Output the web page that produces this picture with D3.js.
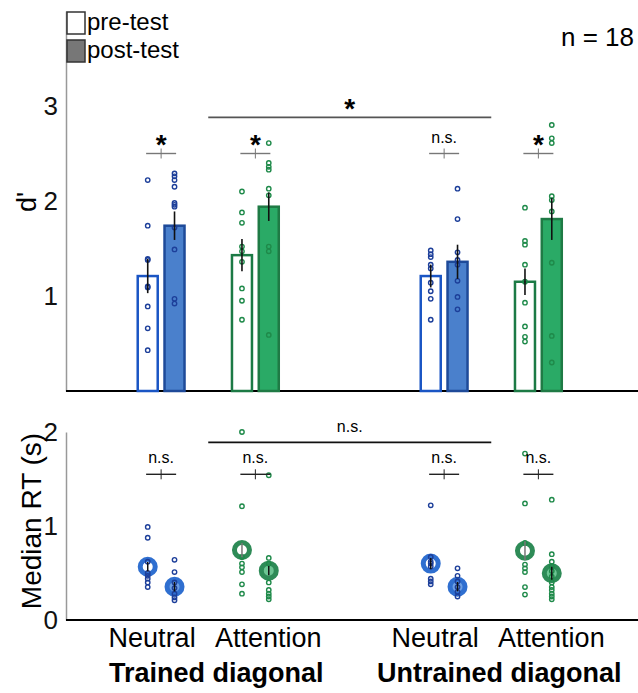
<!DOCTYPE html>
<html>
<head>
<meta charset="utf-8">
<script src="https://cdn.jsdelivr.net/npm/d3@7"></script>
<style>
  body { margin: 0; background: #fff; }
  text { font-family: Helvetica, Arial, "Liberation Sans", sans-serif; }
</style>
</head>
<body>
<div id="chart"></div>
<script>
// d' and median RT, pre vs post test, n = 18

// ----- data -----
const diagonals = ["Trained diagonal", "Untrained diagonal"];
const conditions = ["Neutral", "Attention"];
const sessions = ["pre-test", "post-test"];

// group order: trained neutral, trained attention, untrained neutral, untrained attention
// each entry is [pre, post]
const dMean = [[1.21, 1.74], [1.43, 1.94], [1.21, 1.36], [1.15, 1.81]];
const dSE = [[0.18, 0.15], [0.17, 0.15], [0.12, 0.18], [0.14, 0.22]];
const dPoints = [
  [[2.22, 1.74, 1.39, 1.38, 1.10, 1.09, 0.89, 0.66, 0.43],
   [2.29, 2.26, 2.22, 2.15, 1.98, 1.96, 1.94, 1.72, 1.49, 0.97, 0.92]],
  [[2.10, 1.88, 1.77, 1.52, 1.47, 1.36, 1.08, 0.95, 0.75],
   [2.61, 2.40, 2.36, 2.33, 2.13, 2.06, 1.52, 1.47, 0.59]],
  [[1.48, 1.44, 1.41, 1.33, 1.29, 1.14, 1.05, 0.97, 0.75],
   [2.13, 1.81, 1.46, 1.38, 1.33, 1.16, 0.99, 0.86]],
  [[1.93, 1.58, 1.54, 1.33, 1.15, 0.93, 0.68, 0.57, 0.52],
   [2.80, 2.66, 2.61, 2.05, 2.01, 1.89, 1.35, 0.58, 0.30]]
];
const rtMean = [[0.567, 0.354], [0.745, 0.525], [0.60, 0.354], [0.737, 0.497]];
const rtSE = [[0.05, 0.05], [0.075, 0.05], [0.06, 0.05], [0.10, 0.07]];
const rtPoints = [
  [[0.99, 0.875, 0.62, 0.50, 0.47, 0.44, 0.40, 0.35],
   [0.64, 0.51, 0.40, 0.34, 0.28, 0.24, 0.21]],
  [[2.00, 1.21, 0.67, 0.60, 0.56, 0.51, 0.38, 0.28],
   [1.54, 0.66, 0.60, 0.40, 0.32, 0.28, 0.25, 0.22]],
  [[1.22, 0.67, 0.62, 0.60, 0.57, 0.44, 0.41, 0.38],
   [0.55, 0.47, 0.41, 0.35, 0.30, 0.25]],
  [[1.77, 1.24, 0.82, 0.59, 0.55, 0.51, 0.35, 0.27],
   [1.28, 0.70, 0.62, 0.57, 0.52, 0.46, 0.40, 0.35, 0.32, 0.28, 0.25, 0.22]]
];
const dSig = ["*", "*", "n.s.", "*"];
const rtSig = ["n.s.", "n.s.", "n.s.", "n.s."];
const dMainSig = "*";
const rtMainSig = "n.s.";
const dTicks = [1, 2, 3];
const rtTicks = [0, 1, 2];
const sampleLabel = "n = 18";

// ----- colours -----
const col = {
  Neutral: { pt: "#1d3f9a", pre: "#1a55c4", fill: "#4a80cc", edge: "#1e4a99",
             ring: "#2f6fd0", ringFill: "#6d9fe3" },
  Attention: { pt: "#1f8a4a", pre: "#1c7a45", fill: "#2aaa66", edge: "#1f7a45",
               ring: "#2e8b57", ringFill: "#6cc593" }
};

// ----- svg -----
const width = 638, height = 693;
const svg = d3.select("#chart")
  .append("svg")
  .attr("width", width)
  .attr("height", height);

// ----- scales -----
const xDiag = d3.scaleBand().domain(diagonals).range([114, 585.5]).paddingInner(0.334);
const xCond = d3.scaleBand().domain(conditions).range([0, xDiag.bandwidth()]);
const xSess = d3.scaleBand().domain(sessions).range([0, xCond.bandwidth()])
  .paddingInner(0.179).paddingOuter(0.848);

const yTop = d3.scaleLinear().domain([0, 4]).range([391, 11]);
const yBot = d3.scaleLinear().domain([0, 2]).range([620, 432]);

// flatten groups into one list of cells
const cells = [];
diagonals.forEach(function(dg, i) {
  conditions.forEach(function(c, j) {
    const g = i * 2 + j;
    sessions.forEach(function(s, k) {
      cells.push({
        diag: dg, cond: c, sess: s, k: k, g: g,
        d: dMean[g][k], dse: dSE[g][k], dpts: dPoints[g][k],
        rt: rtMean[g][k], rtse: rtSE[g][k], rtpts: rtPoints[g][k]
      });
    });
  });
});

function condX(d) { return xDiag(d.diag) + xCond(d.cond); }
function cx(d) { return condX(d) + xSess(d.sess) + xSess.bandwidth() / 2; }
function groupCenter(dg, c) { return xDiag(dg) + xCond(c) + xCond.bandwidth() / 2; }

// ----- axes -----
svg.append("g")
  .attr("transform", "translate(66,0)")
  .call(d3.axisLeft(yTop).tickValues(dTicks).tickFormat(d3.format("d"))
    .tickSize(0).tickSizeOuter(0).tickPadding(8));
svg.append("g")
  .attr("transform", "translate(66,0)")
  .call(d3.axisLeft(yBot).tickValues(rtTicks).tickFormat(d3.format("d"))
    .tickSize(0).tickSizeOuter(0).tickPadding(8));
svg.selectAll(".domain").attr("stroke", "#999").attr("stroke-width", 1.5);
svg.selectAll(".tick text").attr("font-size", 26).attr("fill", "#111")
  .style("font-family", "Helvetica, Arial, 'Liberation Sans', sans-serif");

// baselines
svg.append("line").attr("x1", 66).attr("x2", width)
  .attr("y1", yTop(0)).attr("y2", yTop(0))
  .attr("stroke", "#000").attr("stroke-width", 2);
svg.append("line").attr("x1", 66).attr("x2", width)
  .attr("y1", yBot(0)).attr("y2", yBot(0))
  .attr("stroke", "#000").attr("stroke-width", 2);

// axis titles
svg.append("text")
  .attr("transform", "translate(36," + 202 + ") rotate(-90)")
  .attr("text-anchor", "middle").attr("font-size", 27)
  .text("d'");
svg.append("text")
  .attr("transform", "translate(41," + 521 + ") rotate(-90)")
  .attr("text-anchor", "middle").attr("font-size", 28)
  .text("Median RT (s)");

// ----- top panel: bars -----
svg.selectAll(".bar")
  .data(cells)
  .enter().append("rect")
  .attr("class", "bar")
  .attr("x", d => condX(d) + xSess(d.sess) + 1)
  .attr("width", xSess.bandwidth() - 2)
  .attr("y", d => yTop(d.d))
  .attr("height", d => yTop(0) - yTop(d.d))
  .attr("fill", d => d.k === 0 ? "#fff" : col[d.cond].fill)
  .attr("stroke", d => d.k === 0 ? col[d.cond].pre : col[d.cond].edge)
  .attr("stroke-width", 2.5);

// individual subjects
cells.forEach(function(c) {
  svg.selectAll(null)
    .data(c.dpts)
    .enter().append("circle")
    .attr("cx", cx(c))
    .attr("cy", v => yTop(v))
    .attr("r", 2.2)
    .attr("fill", "none")
    .attr("stroke", col[c.cond].pt)
    .attr("stroke-width", 1.4);
});

// error bars
svg.selectAll(".errTop")
  .data(cells)
  .enter().append("line")
  .attr("class", "errTop")
  .attr("x1", cx).attr("x2", cx)
  .attr("y1", d => yTop(d.d - d.dse))
  .attr("y2", d => yTop(d.d + d.dse))
  .attr("stroke", "#111").attr("stroke-width", 1.6);

// ----- bottom panel: median RT -----
svg.selectAll(".ring")
  .data(cells)
  .enter().append("circle")
  .attr("class", "ring")
  .attr("cx", cx)
  .attr("cy", d => yBot(d.rt))
  .attr("r", 7.5)
  .attr("fill", d => d.k === 0 ? "#fff" : col[d.cond].ringFill)
  .attr("stroke", d => col[d.cond].ring)
  .attr("stroke-width", 5);

cells.forEach(function(c) {
  svg.selectAll(null)
    .data(c.rtpts)
    .enter().append("circle")
    .attr("cx", cx(c))
    .attr("cy", v => yBot(v))
    .attr("r", 2.2)
    .attr("fill", "none")
    .attr("stroke", col[c.cond].pt)
    .attr("stroke-width", 1.4);
});

svg.selectAll(".errBot")
  .data(cells)
  .enter().append("line")
  .attr("class", "errBot")
  .attr("x1", cx).attr("x2", cx)
  .attr("y1", d => yBot(d.rt - d.rtse))
  .attr("y2", d => yBot(d.rt + d.rtse))
  .attr("stroke", d => d.k === 0 && d.cond === "Attention" ? "#777" : "#111")
  .attr("stroke-width", 1.5);

// ----- significance marks -----
const groupList = [];
diagonals.forEach(dg => conditions.forEach(c => groupList.push({ diag: dg, cond: c })));

function drawBrackets(y, level, sig, lineCol) {
  groupList.forEach(function(gr, i) {
    const m = groupCenter(gr.diag, gr.cond);
    const ly = y(level);
    svg.append("line").attr("x1", m - 15).attr("x2", m + 15)
      .attr("y1", ly).attr("y2", ly)
      .attr("stroke", lineCol).attr("stroke-width", 1.4);
    svg.append("line").attr("x1", m).attr("x2", m)
      .attr("y1", ly - 5).attr("y2", ly + 5)
      .attr("stroke", lineCol).attr("stroke-width", 1);
    if (sig[i] === "*") {
      svg.append("text").attr("x", m).attr("y", ly)
        .attr("text-anchor", "middle").attr("font-size", 28).attr("font-weight", "bold")
        .text("*");
    } else {
      svg.append("text").attr("x", m).attr("y", ly - 11)
        .attr("text-anchor", "middle").attr("font-size", 16)
        .text(sig[i]);
    }
  });
}
drawBrackets(yTop, 2.5, dSig, "#777");
drawBrackets(yBot, 1.55, rtSig, "#222");

// long comparison line: trained attention vs untrained neutral
const longX1 = xDiag(diagonals[0]) + xCond(conditions[1]);
const longX2 = xDiag(diagonals[1]) + xCond(conditions[0]) + xCond.bandwidth();
svg.append("line").attr("x1", longX1).attr("x2", longX2)
  .attr("y1", yTop(2.88)).attr("y2", yTop(2.88))
  .attr("stroke", "#555").attr("stroke-width", 1.6);
svg.append("text").attr("x", (longX1 + longX2) / 2).attr("y", yTop(2.88) + 1)
  .attr("text-anchor", "middle").attr("font-size", 28).attr("font-weight", "bold")
  .text(dMainSig);
svg.append("line").attr("x1", longX1).attr("x2", longX2)
  .attr("y1", yBot(1.89)).attr("y2", yBot(1.89))
  .attr("stroke", "#111").attr("stroke-width", 1.6);
svg.append("text").attr("x", (longX1 + longX2) / 2).attr("y", yBot(1.89) - 10)
  .attr("text-anchor", "middle").attr("font-size", 16)
  .text(rtMainSig);

// ----- category labels -----
const condOffset = { Neutral: -9, Attention: 13 };
groupList.forEach(function(gr) {
  svg.append("text")
    .attr("x", groupCenter(gr.diag, gr.cond) + condOffset[gr.cond])
    .attr("y", 647)
    .attr("text-anchor", "middle").attr("font-size", 27)
    .text(gr.cond);
});
diagonals.forEach(function(dg) {
  svg.append("text")
    .attr("x", xDiag(dg) + xDiag.bandwidth() / 2 + 8)
    .attr("y", 682)
    .attr("text-anchor", "middle").attr("font-size", 27).attr("font-weight", "bold")
    .text(dg);
});

// ----- legend -----
const legend = svg.append("g").attr("class", "legend");
sessions.forEach(function(s, i) {
  legend.append("rect")
    .attr("x", 67).attr("y", 12 + i * 28)
    .attr("width", 18).attr("height", 22)
    .attr("fill", i === 0 ? "#fff" : "#777")
    .attr("stroke", "#333").attr("stroke-width", 1.5);
  legend.append("text")
    .attr("x", 87).attr("y", 30 + i * 28)
    .attr("font-size", 24)
    .text(s);
});

svg.append("text")
  .attr("x", 634).attr("y", 46)
  .attr("text-anchor", "end").attr("font-size", 26)
  .text(sampleLabel);
</script>
</body>
</html>
